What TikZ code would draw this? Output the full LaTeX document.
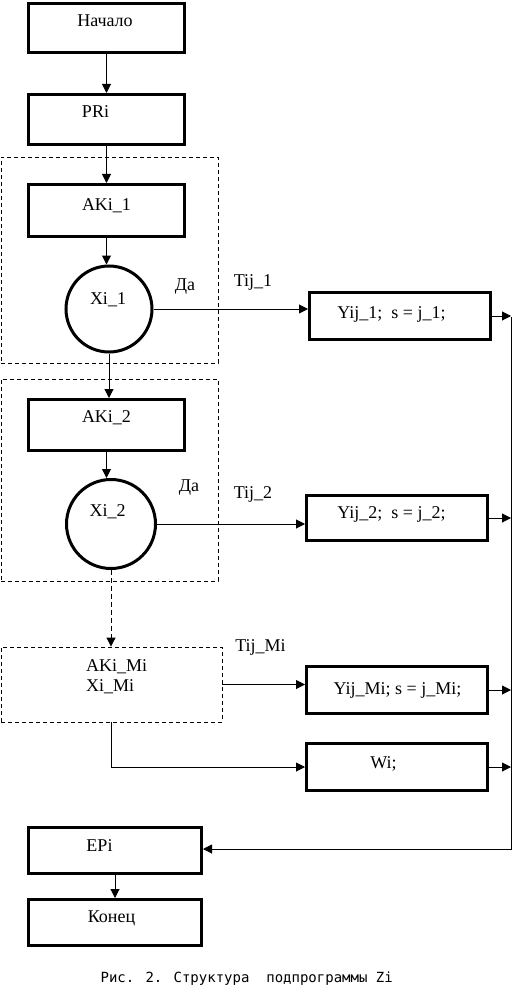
\documentclass[tikz,border=0pt]{standalone}
\usepackage{fontspec}
\setmainfont{Liberation Serif}
\newfontfamily\capfont{DejaVu Sans Mono}
\usetikzlibrary{arrows.meta,calc}
\begin{document}
\begin{tikzpicture}[x=1pt,y=-1pt,
  box/.style={draw,line width=3pt,rectangle,inner sep=0pt},
  circ/.style={draw,line width=3pt,circle,inner sep=0pt},
  grp/.style={draw,line width=0.9pt,dash pattern=on 4pt off 3pt,rectangle,inner sep=0pt},
  txt/.style={inner sep=0pt,anchor=base,font=\fontsize{18}{21}\selectfont},
  arr/.style={line width=1pt,-{Triangle[length=9pt,width=9pt]}},
  ln/.style={line width=1pt}]
\fill[white] (0,0) rectangle (512,1003);
\useasboundingbox (0,0) rectangle (512,1003);
% dashed groups
\node[grp,minimum width=217pt,minimum height=206pt] (grp1) at (109.5,260) {};
\node[grp,minimum width=217pt,minimum height=202pt] (grp2) at (109.5,480) {};
\node[grp,minimum width=221pt,minimum height=75pt] (grp3) at (111.5,684.5) {};
% boxes
\node[box,minimum width=156pt,minimum height=49pt] (start) at (106.5,28) {};
\node[box,minimum width=156pt,minimum height=50pt] (pri) at (106.5,119.5) {};
\node[box,minimum width=156pt,minimum height=52pt] (ak1) at (106.5,210.5) {};
\node[circ,minimum size=86pt] (x1) at (109,309) {};
\node[box,minimum width=156pt,minimum height=51pt] (ak2) at (106.5,425) {};
\node[circ,minimum size=89pt] (x2) at (111,524) {};
\node[box,minimum width=181pt,minimum height=47pt] (y1) at (400,316) {};
\node[box,minimum width=181pt,minimum height=45pt] (y2) at (397,518) {};
\node[box,minimum width=181pt,minimum height=47pt] (ym) at (397,690) {};
\node[box,minimum width=181pt,minimum height=47pt] (wi) at (397,767) {};
\node[box,minimum width=173pt,minimum height=46pt] (epi) at (115,850.5) {};
\node[box,minimum width=173pt,minimum height=46pt] (end) at (115,922.5) {};
% texts
\node[txt] (tstart) at (105,26.5) {Начало};
\node[txt] (tpri) at (95.5,118) {PRi};
\node[txt] (tak1) at (106.5,210) {AKi\_1};
\node[txt] (tx1) at (108,304) {Xi\_1};
\node[txt] (tda1) at (185,290) {Да};
\node[txt] (ttij1) at (253,286) {Tij\_1};
\node[txt] (ty1) at (391.5,318) {Yij\_1;~ s = j\_1;};
\node[txt] (tak2) at (106.5,422.5) {AKi\_2};
\node[txt] (tx2) at (107.7,516) {Xi\_2};
\node[txt] (tda2) at (189,491.5) {Да};
\node[txt] (ttij2) at (253,498) {Tij\_2};
\node[txt] (ty2) at (391.5,518) {Yij\_2;~ s = j\_2;};
\node[txt] (ttijm) at (260.5,651) {Tij\_Mi};
\node[txt,anchor=base west] (takm) at (86,671) {AKi\_Mi};
\node[txt,anchor=base west] (txm) at (86,691) {Xi\_Mi};
\node[txt] (tym) at (397.5,694) {Yij\_Mi; s = j\_Mi;};
\node[txt] (twi) at (383.5,768) {Wi;};
\node[txt] (tepi) at (99.5,851) {EPi};
\node[txt] (tend) at (111.5,922) {Конец};
\node[inner sep=0pt,anchor=base,font=\capfont\fontsize{14}{16}\selectfont] (cap) at (246.7,982) {Рис. 2. Структура~ подпрограммы Zi};
% bus
\coordinate (bt) at (511,317);
\coordinate (bb) at (511,849);
% connectors
\draw[arr] (start) -- (pri);
\draw[arr] (pri) -- (ak1);
\draw[arr] (ak1.south) -- (ak1.south |- x1.north);
\draw[arr] (x1.south) -- (x1.south |- ak2.north);
\draw[arr] (ak2.south) -- (ak2.south |- x2.north);
\draw[arr,dash pattern=on 5pt off 3pt] (x2.south) -- (x2.south |- grp3.north);
\draw[arr] (x1.east) -- (x1.east -| y1.west);
\draw[arr] (x2.east) -- (x2.east -| y2.west);
\draw[arr] (grp3.east) -- (grp3.east -| ym.west);
\draw[arr] (grp3.south) |- (wi.west);
\draw[arr] (y1.east) -- (y1.east -| bt);
\draw[arr] (y2.east) -- (y2.east -| bt);
\draw[arr] (ym.east) -- (ym.east -| bt);
\draw[arr] (wi.east) -- (wi.east -| bt);
\draw[arr] (bt) -- (bb) -- (bb -| epi.east);
\draw[arr] (epi) -- (end);
\end{tikzpicture}
\end{document}
